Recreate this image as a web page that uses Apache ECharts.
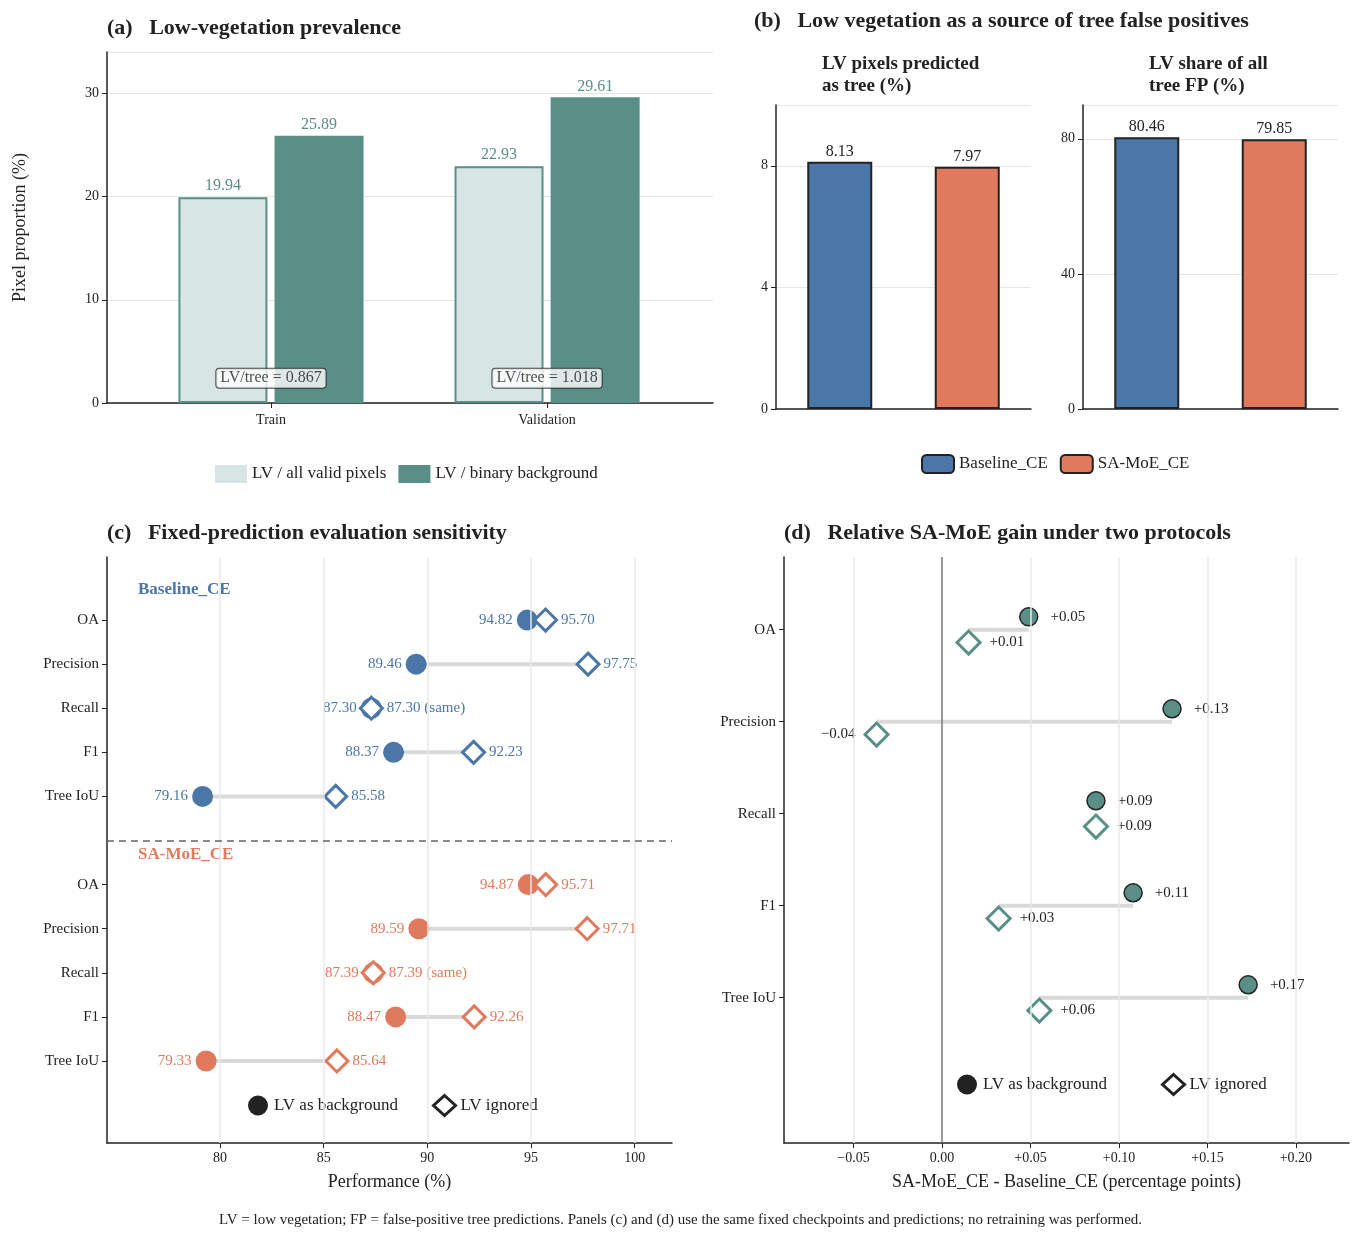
<!DOCTYPE html>
<html><head><meta charset="utf-8">
<script src="https://cdn.jsdelivr.net/npm/echarts@6/dist/echarts.min.js"></script>
<style>html,body{margin:0;background:#fff}#c{width:1361px;height:1242px}</style>
</head><body><div id="c"></div>
<script>
var serif = 'Liberation Serif';
var teal = '#5a8f88', tealLight = '#d7e6e4', blue = '#4a76a8', orange = '#e07a5c', ink = '#222';

// (a)
var splits = ['Train', 'Validation'];
var lvAll = [19.94, 22.93];
var lvBg = [25.89, 29.61];
var lvTree = ['LV/tree = 0.867', 'LV/tree = 1.018'];
// (b)
var models = ['Baseline_CE', 'SA-MoE_CE'];
var lvPredTree = [8.13, 7.97];
var lvShareFp = [80.46, 79.85];
// (c)
var metrics = ['OA', 'Precision', 'Recall', 'F1', 'Tree IoU'];
var baseBg = [94.82, 89.46, 87.30, 88.37, 79.16];
var baseIg = [95.70, 97.75, 87.30, 92.23, 85.58];
var samBg = [94.87, 89.59, 87.39, 88.47, 79.33];
var samIg = [95.71, 97.71, 87.39, 92.26, 85.64];
var cTicks = [80, 85, 90, 95, 100];
// (d)
var gainBg = [0.049, 0.130, 0.087, 0.108, 0.173];
var gainIg = [0.015, -0.037, 0.087, 0.032, 0.055];
var gainBgTxt = ['+0.05', '+0.13', '+0.09', '+0.11', '+0.17'];
var gainIgTxt = ['+0.01', '\u22120.04', '+0.09', '+0.03', '+0.06'];
var dTicks = [-0.05, 0, 0.05, 0.10, 0.15, 0.20];
var dTickTxt = ['\u22120.05', '0.00', '+0.05', '+0.10', '+0.15', '+0.20'];

var chart = echarts.init(document.getElementById('c'));
var txt = { fontFamily: serif, color: ink };
function lbl(o) { return Object.assign({ fontFamily: serif, color: ink, fontSize: 14 }, o); }

var series = [];
// panel a
series.push({ name: 'LV / all valid pixels', type: 'bar', xAxisIndex: 0, yAxisIndex: 0,
  data: lvAll.map(function (v, i) { return [i, v]; }),
  barWidth: 89, barGap: '8%', itemStyle: { color: tealLight, borderColor: teal, borderWidth: 2 },
  label: { show: true, position: 'top', distance: 3, formatter: function (p) { return p.value[1].toFixed(2); }, fontFamily: serif, fontSize: 16, color: teal } });
series.push({ name: 'LV / binary background', type: 'bar', xAxisIndex: 0, yAxisIndex: 0,
  data: lvBg.map(function (v, i) { return [i, v]; }),
  barWidth: 89, itemStyle: { color: teal },
  label: { show: true, position: 'top', distance: 3, formatter: function (p) { return p.value[1].toFixed(2); }, fontFamily: serif, fontSize: 16, color: teal } });
series.push({ type: 'scatter', xAxisIndex: 0, yAxisIndex: 0, symbolSize: 0, silent: true, z: 5,
  data: splits.map(function (s, i) { return { value: [i, 2.4], label: { formatter: lvTree[i] } }; }),
  label: { show: true, position: 'inside', fontFamily: serif, fontSize: 16, color: ink, backgroundColor: '#fff',
    borderColor: ink, borderWidth: 1, borderRadius: 3, padding: [2, 4, 1, 4] } });
// panel b
[lvPredTree, lvShareFp].forEach(function (arr, k) {
  models.forEach(function (m, i) {
    var d = [null, null]; d[i] = arr[i];
    series.push({ name: m, type: 'bar', xAxisIndex: 1 + k, yAxisIndex: 1 + k, data: d, barWidth: 65, barGap: '-100%',
      itemStyle: { color: i ? orange : blue, borderColor: ink, borderWidth: 2 },
      label: { show: true, position: 'top', distance: 2, formatter: function (p) { return p.value.toFixed(2); }, fontFamily: serif, fontSize: 16, color: ink } });
  });
});
// panel c
function cRows(bg, ig, off, col) {
  metrics.forEach(function (m, i) {
    series.push({ type: 'line', xAxisIndex: 3, yAxisIndex: 3, symbol: 'none', silent: true, z: 1,
      lineStyle: { color: '#d9d9d9', width: 4 }, data: [[bg[i], i + off], [ig[i], i + off]] });
  });
  series.push({ name: 'LV as background', type: 'scatter', xAxisIndex: 3, yAxisIndex: 3, symbol: 'circle', symbolSize: 21, z: 3,
    itemStyle: { color: col, opacity: 1 }, data: bg.map(function (v, i) { return [v, i + off]; }),
    label: { show: true, position: 'left', distance: 4, formatter: function (p) { return p.value[0].toFixed(2); }, fontFamily: serif, fontSize: 15, color: col } });
  series.push({ name: 'LV ignored', type: 'scatter', xAxisIndex: 3, yAxisIndex: 3, symbol: 'diamond', symbolSize: 22, z: 4,
    itemStyle: { color: '#fff', borderColor: col, borderWidth: 3, opacity: 1 }, data: ig.map(function (v, i) { return [v, i + off]; }),
    label: { show: true, position: 'right', distance: 3, formatter: function (p) {
      var s = p.value[0].toFixed(2); return p.dataIndex === 2 ? s + ' (same)' : s; }, fontFamily: serif, fontSize: 15, color: col } });
}
cRows(baseBg, baseIg, 0, blue);
cRows(samBg, samIg, 6, orange);
series.push({ type: 'line', xAxisIndex: 3, yAxisIndex: 3, data: [], silent: true, z: 0,
  markLine: { silent: true, symbol: 'none', label: { show: false }, lineStyle: { color: '#eaeaea', type: 'solid', width: 1.5 },
    data: cTicks.map(function (t) { return { xAxis: t }; }) } });
series.push({ type: 'line', xAxisIndex: 3, yAxisIndex: 3, data: [], silent: true,
  markLine: { silent: true, symbol: 'none', label: { show: false }, lineStyle: { color: '#666', type: [7, 5], width: 1.5 },
    data: [{ yAxis: 5 }] } });
// panel d
metrics.forEach(function (m, i) {
  series.push({ type: 'line', xAxisIndex: 4, yAxisIndex: 4, symbol: 'none', silent: true, z: 1,
    lineStyle: { color: '#d9d9d9', width: 4 }, data: [[gainIg[i], i], [gainBg[i], i]] });
});
series.push({ name: 'LV as background', type: 'scatter', xAxisIndex: 4, yAxisIndex: 4, symbol: 'circle', symbolSize: 18, z: 3,
  itemStyle: { color: teal, borderColor: ink, borderWidth: 1.5, opacity: 1 }, data: gainBg.map(function (v, i) { return [v, i - 0.14]; }),
  label: { show: true, position: 'right', distance: 12, formatter: function (p) { return gainBgTxt[p.dataIndex]; }, fontFamily: serif, fontSize: 15, color: ink } });
var igData = gainIg.map(function (v, i) { return [v, i + 0.14]; });
igData[1] = { value: [gainIg[1], 1.14], label: { position: 'left' } };
series.push({ name: 'LV ignored', type: 'scatter', xAxisIndex: 4, yAxisIndex: 4, symbol: 'diamond', symbolSize: 23, z: 4,
  itemStyle: { color: '#fff', borderColor: teal, borderWidth: 3, opacity: 1 }, data: igData,
  label: { show: true, distance: 8, formatter: function (p) { return gainIgTxt[p.dataIndex]; }, fontFamily: serif, fontSize: 15, color: ink,
    position: 'right' } });
series.push({ type: 'line', xAxisIndex: 4, yAxisIndex: 4, data: [], silent: true, z: 0,
  markLine: { silent: true, symbol: 'none', label: { show: false }, lineStyle: { color: '#eaeaea', type: 'solid', width: 1.5 },
    data: dTicks.filter(function (t) { return t !== 0; }).map(function (t) { return { xAxis: t }; }) } });
series.push({ type: 'line', xAxisIndex: 4, yAxisIndex: 4, data: [], silent: true, z: 0,
  markLine: { silent: true, symbol: 'none', label: { show: false }, lineStyle: { color: '#777', type: 'solid', width: 1.5 },
    data: [{ xAxis: 0 }] } });

var axLine = { onZero: false, lineStyle: { color: ink, width: 1.5 } };
var axTick = { lineStyle: { color: ink }, length: 5 };
var hGrid = { lineStyle: { color: '#e6e6e6', width: 1.2 } };
var mkLegend = [
  { name: 'LV as background', icon: 'circle', itemStyle: { color: ink, borderWidth: 0 } },
  { name: 'LV ignored', icon: 'diamond', itemStyle: { color: '#fff', borderColor: ink, borderWidth: 3 } }
];

chart.setOption({
  animation: false,
  textStyle: txt,
  grid: [
    { left: 107, right: 648, top: 52, bottom: 839 },
    { left: 776, right: 330, top: 105, bottom: 833 },
    { left: 1083, right: 23, top: 105, bottom: 833 },
    { left: 107, right: 689, top: 557, bottom: 99 },
    { left: 784, right: 12, top: 557, bottom: 99 }
  ],
  xAxis: [
    { type: 'value', gridIndex: 0, min: -0.594, max: 1.601, axisLine: axLine, splitLine: { show: false },
      axisTick: Object.assign({ customValues: [0, 1] }, axTick),
      axisLabel: lbl({ customValues: [0, 1], margin: 10, formatter: function (v) { return splits[Math.round(v)]; } }) },
    { type: 'category', gridIndex: 1, data: models, axisLine: axLine, axisTick: { show: false }, axisLabel: { show: false } },
    { type: 'category', gridIndex: 2, data: models, axisLine: axLine, axisTick: { show: false }, axisLabel: { show: false } },
    { type: 'value', gridIndex: 3, min: 74.55, max: 101.8, axisLine: axLine, splitLine: { show: false },
      axisTick: Object.assign({ customValues: cTicks }, axTick), axisLabel: lbl({ customValues: cTicks }),
      name: 'Performance (%)', nameLocation: 'middle', nameGap: 30, nameTextStyle: lbl({ fontSize: 18 }) },
    { type: 'value', gridIndex: 4, min: -0.0893, max: 0.23, axisLine: axLine, splitLine: { show: false },
      axisTick: Object.assign({ customValues: dTicks }, axTick),
      axisLabel: lbl({ customValues: dTicks, formatter: function (v) { return dTickTxt[dTicks.indexOf(Math.round(v * 100) / 100)]; } }),
      name: 'SA-MoE_CE - Baseline_CE (percentage points)', nameLocation: 'middle', nameGap: 30, nameTextStyle: lbl({ fontSize: 18 }) }
  ],
  yAxis: [
    { type: 'value', gridIndex: 0, min: 0, max: 34, interval: 10, axisLine: Object.assign({ show: true }, axLine),
      axisTick: Object.assign({ show: true }, axTick), axisLabel: lbl({ showMaxLabel: false }), splitLine: hGrid,
      name: 'Pixel proportion (%)', nameLocation: 'middle', nameGap: 78, nameTextStyle: lbl({ fontSize: 18 }) },
    { type: 'value', gridIndex: 1, min: 0, max: 10, interval: 4, axisLine: Object.assign({ show: true }, axLine),
      axisTick: Object.assign({ show: true }, axTick), axisLabel: lbl({ showMaxLabel: false }), splitLine: hGrid },
    { type: 'value', gridIndex: 2, min: 0, max: 90, interval: 40, axisLine: Object.assign({ show: true }, axLine),
      axisTick: Object.assign({ show: true }, axTick), axisLabel: lbl({ showMaxLabel: false }), splitLine: hGrid },
    { type: 'value', gridIndex: 3, inverse: true, min: -1.43, max: 11.86, axisLine: Object.assign({ show: true }, axLine),
      splitLine: { show: false }, axisTick: Object.assign({ show: true, customValues: [0, 1, 2, 3, 4, 6, 7, 8, 9, 10] }, axTick),
      axisLabel: lbl({ fontSize: 15, customValues: [0, 1, 2, 3, 4, 6, 7, 8, 9, 10], formatter: function (v) { return metrics[Math.round(v) % 6]; } }) },
    { type: 'value', gridIndex: 4, inverse: true, min: -0.79, max: 5.58, axisLine: Object.assign({ show: true }, axLine),
      splitLine: { show: false }, axisTick: Object.assign({ show: true, customValues: [0, 1, 2, 3, 4] }, axTick),
      axisLabel: lbl({ fontSize: 15, customValues: [0, 1, 2, 3, 4], formatter: function (v) { return metrics[Math.round(v)]; } }) }
  ],
  legend: [
    { data: [{ name: 'LV / all valid pixels', icon: 'rect', itemStyle: { borderWidth: 0 } }, { name: 'LV / binary background', icon: 'rect' }],
      left: 210, top: 460, itemWidth: 32, itemHeight: 18, itemGap: 12, textStyle: lbl({ fontSize: 17 }), selectedMode: false },
    { data: models, left: 916, top: 449, itemWidth: 32, itemHeight: 18, itemGap: 12, textStyle: lbl({ fontSize: 17 }), selectedMode: false },
    { data: mkLegend, left: 243, top: 1089, itemWidth: 22, itemHeight: 20, itemGap: 34,
      textStyle: lbl({ fontSize: 17 }), selectedMode: false },
    { data: mkLegend, left: 952, top: 1068, itemWidth: 22, itemHeight: 20, itemGap: 54,
      textStyle: lbl({ fontSize: 17 }), selectedMode: false }
  ],
  graphic: [
    { type: 'text', left: 107, top: 17, style: { text: '(a)   Low-vegetation prevalence', font: 'bold 22px "Liberation Serif"', fill: ink } },
    { type: 'text', left: 754, top: 10, style: { text: '(b)   Low vegetation as a source of tree false positives', font: 'bold 22px "Liberation Serif"', fill: ink } },
    { type: 'text', left: 822, top: 53, style: { text: 'LV pixels predicted\nas tree (%)', align: 'center', font: 'bold 19px "Liberation Serif"', fill: ink, lineHeight: 22 } },
    { type: 'text', left: 1149, top: 53, style: { text: 'LV share of all\ntree FP (%)', align: 'center', font: 'bold 19px "Liberation Serif"', fill: ink, lineHeight: 22 } },
    { type: 'text', left: 107, top: 522, style: { text: '(c)   Fixed-prediction evaluation sensitivity', font: 'bold 22px "Liberation Serif"', fill: ink } },
    { type: 'text', left: 784, top: 522, style: { text: '(d)   Relative SA-MoE gain under two protocols', font: 'bold 22px "Liberation Serif"', fill: ink } },
    { type: 'text', left: 138, top: 581, style: { text: 'Baseline_CE', font: 'bold 17px "Liberation Serif"', fill: blue } },
    { type: 'text', left: 138, top: 846, style: { text: 'SA-MoE_CE', font: 'bold 17px "Liberation Serif"', fill: orange } },
    { type: 'text', left: 'center', top: 1213, style: { text: 'LV = low vegetation; FP = false-positive tree predictions. Panels (c) and (d) use the same fixed checkpoints and predictions; no retraining was performed.', font: '15px "Liberation Serif"', fill: ink } }
  ],
  series: series
});
</script></body></html>
